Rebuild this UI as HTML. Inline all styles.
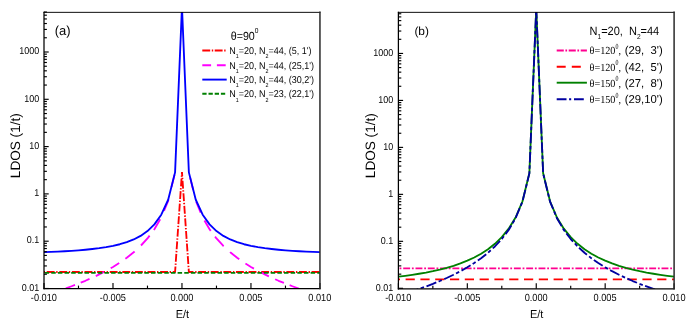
<!DOCTYPE html>
<html><head><meta charset="utf-8"><title>LDOS</title>
<style>html,body{margin:0;padding:0;background:#fff}body{width:693px;height:327px;position:relative;overflow:hidden;font-family:"Liberation Sans",sans-serif}</style>
</head><body>
<svg width="693" height="327" viewBox="0 0 693 327" style="position:absolute;left:0;top:0">
<defs>
<clipPath id="ca"><rect x="44.00" y="12.10" width="275.95" height="276.50"/></clipPath>
<clipPath id="cb"><rect x="398.40" y="12.10" width="275.70" height="276.75"/></clipPath>
</defs>
<g clip-path="url(#ca)" fill="none" stroke-width="1.85" stroke-linejoin="round">
<path d="M44.00 272.00 L50.90 272.00 L57.80 272.00 L64.70 272.00 L71.59 272.00 L78.49 272.00 L85.39 272.00 L92.29 272.00 L99.19 272.00 L106.09 272.00 L112.99 272.00 L119.89 272.00 L126.78 272.00 L133.68 272.00 L140.58 272.00 L147.48 272.00 L154.38 272.00 L161.28 272.00 L168.18 272.00 L175.08 272.00 L181.97 172.17" stroke="#ff0000" stroke-dasharray="7.90 1.60 1.40 1.70" stroke-dashoffset="9.90"/>
<path d="M319.95 272.00 L313.05 272.00 L306.15 272.00 L299.25 272.00 L292.36 272.00 L285.46 272.00 L278.56 272.00 L271.66 272.00 L264.76 272.00 L257.86 272.00 L250.96 272.00 L244.06 272.00 L237.16 272.00 L230.27 272.00 L223.37 272.00 L216.47 272.00 L209.57 272.00 L202.67 272.00 L195.77 272.00 L188.87 272.00 L181.97 172.17" stroke="#ff0000" stroke-dasharray="7.90 1.60 1.40 1.70" stroke-dashoffset="12.10"/>
<path d="M51.50 293.12 L57.80 291.09 L59.50 290.51 M65.80 288.34 L71.59 286.25 L75.00 284.94 M80.70 282.69 L85.39 280.77 L89.50 278.95 M95.80 276.05 L99.19 274.43 L104.00 271.94 M110.70 268.24 L112.99 266.94 L119.20 263.04 M125.40 258.75 L126.78 257.77 L133.68 252.29 L134.60 251.45 M141.00 245.50 L147.48 238.47 L149.60 235.65 M153.90 229.94 L154.38 229.30 L160.20 219.33 M164.00 210.91 L168.18 200.82 L168.50 199.49 M171.50 187.11 L174.50 174.72" stroke="#ff00ff"/>
<path d="M305.15 290.75 L306.15 291.09 L313.05 293.31 L313.15 293.34 M289.65 285.21 L292.36 286.25 L298.85 288.60 M275.15 279.26 L278.56 280.77 L283.95 282.98 M260.65 272.30 L264.76 274.43 L268.85 276.38 M245.45 263.48 L250.96 266.94 L253.95 268.64 M230.05 252.09 L230.27 252.29 L237.16 257.77 L239.25 259.24 M215.05 236.58 L216.47 238.47 L223.37 245.96 L223.65 246.22 M204.45 220.53 L209.57 229.30 L210.75 230.87 M196.15 201.73 L200.65 212.60 M190.15 177.61 L193.15 189.99" stroke="#ff00ff"/>
<path d="M44.00 252.14 L50.90 251.88 L57.80 251.58 L64.70 251.22 L71.59 250.81 L78.49 250.32 L85.39 249.74 L92.29 249.04 L99.19 248.19 L106.09 247.15 L112.99 245.86 L119.89 244.23 L126.78 242.16 L133.68 239.46 L140.58 235.89 L147.48 231.08 L154.38 224.39 L161.28 214.73 L168.18 199.76 L175.08 172.37 L181.97 6.86 L188.87 172.37 L195.77 199.76 L202.67 214.73 L209.57 224.39 L216.47 231.08 L223.37 235.89 L230.27 239.46 L237.16 242.16 L244.06 244.23 L250.96 245.86 L257.86 247.15 L264.76 248.19 L271.66 249.04 L278.56 249.74 L285.46 250.32 L292.36 250.81 L299.25 251.22 L306.15 251.58 L313.05 251.88 L319.95 252.14" stroke="#0000ff"/>
<path d="M44.00 272.87 L50.90 272.87 L57.80 272.87 L64.70 272.87 L71.59 272.87 L78.49 272.87 L85.39 272.87 L92.29 272.87 L99.19 272.87 L106.09 272.87 L112.99 272.87 L119.89 272.87 L126.78 272.87 L133.68 272.87 L140.58 272.87 L147.48 272.87 L154.38 272.87 L161.28 272.87 L168.18 272.87 L175.08 272.87 L181.97 272.87 L188.87 272.87 L195.77 272.87 L202.67 272.87 L209.57 272.87 L216.47 272.87 L223.37 272.87 L230.27 272.87 L237.16 272.87 L244.06 272.87 L250.96 272.87 L257.86 272.87 L264.76 272.87 L271.66 272.87 L278.56 272.87 L285.46 272.87 L292.36 272.87 L299.25 272.87 L306.15 272.87 L313.05 272.87 L319.95 272.87" stroke="#008000" stroke-dasharray="4.50 2.15" stroke-dashoffset="6.05"/>
</g>
<g stroke="#000" stroke-width="1.15" fill="none"><line x1="44.00" y1="288.50" x2="48.70" y2="288.50"/><line x1="44.00" y1="274.26" x2="46.90" y2="274.26"/><line x1="44.00" y1="265.93" x2="46.90" y2="265.93"/><line x1="44.00" y1="260.02" x2="46.90" y2="260.02"/><line x1="44.00" y1="255.44" x2="46.90" y2="255.44"/><line x1="44.00" y1="251.69" x2="46.90" y2="251.69"/><line x1="44.00" y1="248.53" x2="46.90" y2="248.53"/><line x1="44.00" y1="245.78" x2="46.90" y2="245.78"/><line x1="44.00" y1="243.36" x2="46.90" y2="243.36"/><line x1="44.00" y1="241.20" x2="48.70" y2="241.20"/><line x1="44.00" y1="226.96" x2="46.90" y2="226.96"/><line x1="44.00" y1="218.63" x2="46.90" y2="218.63"/><line x1="44.00" y1="212.72" x2="46.90" y2="212.72"/><line x1="44.00" y1="208.14" x2="46.90" y2="208.14"/><line x1="44.00" y1="204.39" x2="46.90" y2="204.39"/><line x1="44.00" y1="201.23" x2="46.90" y2="201.23"/><line x1="44.00" y1="198.48" x2="46.90" y2="198.48"/><line x1="44.00" y1="196.06" x2="46.90" y2="196.06"/><line x1="44.00" y1="193.90" x2="48.70" y2="193.90"/><line x1="44.00" y1="179.66" x2="46.90" y2="179.66"/><line x1="44.00" y1="171.33" x2="46.90" y2="171.33"/><line x1="44.00" y1="165.42" x2="46.90" y2="165.42"/><line x1="44.00" y1="160.84" x2="46.90" y2="160.84"/><line x1="44.00" y1="157.09" x2="46.90" y2="157.09"/><line x1="44.00" y1="153.93" x2="46.90" y2="153.93"/><line x1="44.00" y1="151.18" x2="46.90" y2="151.18"/><line x1="44.00" y1="148.76" x2="46.90" y2="148.76"/><line x1="44.00" y1="146.60" x2="48.70" y2="146.60"/><line x1="44.00" y1="132.36" x2="46.90" y2="132.36"/><line x1="44.00" y1="124.03" x2="46.90" y2="124.03"/><line x1="44.00" y1="118.12" x2="46.90" y2="118.12"/><line x1="44.00" y1="113.54" x2="46.90" y2="113.54"/><line x1="44.00" y1="109.79" x2="46.90" y2="109.79"/><line x1="44.00" y1="106.63" x2="46.90" y2="106.63"/><line x1="44.00" y1="103.88" x2="46.90" y2="103.88"/><line x1="44.00" y1="101.46" x2="46.90" y2="101.46"/><line x1="44.00" y1="99.30" x2="48.70" y2="99.30"/><line x1="44.00" y1="85.06" x2="46.90" y2="85.06"/><line x1="44.00" y1="76.73" x2="46.90" y2="76.73"/><line x1="44.00" y1="70.82" x2="46.90" y2="70.82"/><line x1="44.00" y1="66.24" x2="46.90" y2="66.24"/><line x1="44.00" y1="62.49" x2="46.90" y2="62.49"/><line x1="44.00" y1="59.33" x2="46.90" y2="59.33"/><line x1="44.00" y1="56.58" x2="46.90" y2="56.58"/><line x1="44.00" y1="54.16" x2="46.90" y2="54.16"/><line x1="44.00" y1="52.00" x2="48.70" y2="52.00"/><line x1="44.00" y1="37.76" x2="46.90" y2="37.76"/><line x1="44.00" y1="29.43" x2="46.90" y2="29.43"/><line x1="44.00" y1="23.52" x2="46.90" y2="23.52"/><line x1="44.00" y1="18.94" x2="46.90" y2="18.94"/><line x1="44.00" y1="15.19" x2="46.90" y2="15.19"/><line x1="44.00" y1="12.03" x2="46.90" y2="12.03"/><line x1="44.00" y1="288.60" x2="44.00" y2="283.00"/><line x1="78.49" y1="288.60" x2="78.49" y2="285.60"/><line x1="112.99" y1="288.60" x2="112.99" y2="283.00"/><line x1="147.48" y1="288.60" x2="147.48" y2="285.60"/><line x1="181.97" y1="288.60" x2="181.97" y2="283.00"/><line x1="216.47" y1="288.60" x2="216.47" y2="285.60"/><line x1="250.96" y1="288.60" x2="250.96" y2="283.00"/><line x1="285.46" y1="288.60" x2="285.46" y2="285.60"/><line x1="319.95" y1="288.60" x2="319.95" y2="283.00"/></g><g stroke="#000" fill="none" stroke-linecap="square"><line x1="44.00" y1="12.35" x2="319.95" y2="12.35" stroke-width="0.95"/><line x1="44.00" y1="288.60" x2="319.95" y2="288.60" stroke-width="1.15"/><line x1="44.00" y1="12.35" x2="44.00" y2="288.60" stroke-width="1.25"/><line x1="319.95" y1="12.35" x2="319.95" y2="288.60" stroke-width="1.5" stroke="#2a2a2a"/></g>
<g clip-path="url(#cb)" fill="none" stroke-width="1.85" stroke-linejoin="round">
<path d="M398.40 268.42 L405.29 268.42 L412.18 268.42 L419.08 268.42 L425.97 268.42 L432.86 268.42 L439.75 268.42 L446.65 268.42 L453.54 268.42 L460.43 268.42 L467.32 268.42 L474.22 268.42 L481.11 268.42 L488.00 268.42 L494.89 268.42 L501.79 268.42 L508.68 268.42 L515.57 268.42 L522.47 268.42 L529.36 268.42 L536.25 268.42 L543.14 268.42 L550.03 268.42 L556.93 268.42 L563.82 268.42 L570.71 268.42 L577.61 268.42 L584.50 268.42 L591.39 268.42 L598.28 268.42 L605.17 268.42 L612.07 268.42 L618.96 268.42 L625.85 268.42 L632.75 268.42 L639.64 268.42 L646.53 268.42 L653.42 268.42 L660.32 268.42 L667.21 268.42 L674.10 268.42" stroke="#ff0090" stroke-dasharray="6.90 1.80 1.80 1.80" stroke-dashoffset="7.50"/>
<path d="M398.40 279.40 L405.29 279.40 L412.18 279.40 L419.08 279.40 L425.97 279.40 L432.86 279.40 L439.75 279.40 L446.65 279.40 L453.54 279.40 L460.43 279.40 L467.32 279.40 L474.22 279.40 L481.11 279.40 L488.00 279.40 L494.89 279.40 L501.79 279.40 L508.68 279.40 L515.57 279.40 L522.47 279.40 L529.36 279.40 L536.25 279.40 L543.14 279.40 L550.03 279.40 L556.93 279.40 L563.82 279.40 L570.71 279.40 L577.61 279.40 L584.50 279.40 L591.39 279.40 L598.28 279.40 L605.17 279.40 L612.07 279.40 L618.96 279.40 L625.85 279.40 L632.75 279.40 L639.64 279.40 L646.53 279.40 L653.42 279.40 L660.32 279.40 L667.21 279.40 L674.10 279.40" stroke="#ff0000" stroke-dasharray="9.20 5.60" stroke-dashoffset="7.60"/>
<path d="M398.40 276.65 L405.29 275.80 L412.18 274.84 L419.08 273.77 L425.97 272.56 L432.86 271.18 L439.75 269.62 L446.65 267.84 L453.54 265.79 L460.43 263.43 L467.32 260.70 L474.22 257.50 L481.11 253.73 L488.00 249.24 L494.89 243.83 L501.79 237.16 L508.68 228.70 L515.57 217.49 L522.47 201.33 L529.36 173.28 L536.25 8.63 L543.14 173.28 L550.03 201.33 L556.93 217.49 L563.82 228.70 L570.71 237.16 L577.61 243.83 L584.50 249.24 L591.39 253.73 L598.28 257.50 L605.17 260.70 L612.07 263.43 L618.96 265.79 L625.85 267.84 L632.75 269.62 L639.64 271.18 L646.53 272.56 L653.42 273.77 L660.32 274.84 L667.21 275.80 L674.10 276.65" stroke="#008000"/>
<path d="M398.40 295.58 L405.29 293.48 L412.18 291.28 L419.08 288.95 L425.97 286.47 L432.86 283.84 L439.75 281.02 L446.65 278.00 L453.54 274.74 L460.43 271.19 L467.32 267.30 L474.22 263.00 L481.11 258.19 L488.00 252.75 L494.89 246.46 L501.79 239.02 L508.68 229.91 L515.57 218.18 L522.47 201.64 L529.36 173.36 L536.25 8.63" stroke="#0000a0" stroke-dasharray="10.50 2.50 3.50 2.70" stroke-dashoffset="8.79"/>
<path d="M674.10 295.58 L667.21 293.48 L660.32 291.28 L653.42 288.95 L646.53 286.47 L639.64 283.84 L632.75 281.02 L625.85 278.00 L618.96 274.74 L612.07 271.19 L605.17 267.30 L598.28 263.00 L591.39 258.19 L584.50 252.75 L577.61 246.46 L570.71 239.02 L563.82 229.91 L556.93 218.18 L550.03 201.64 L543.14 173.36 L536.25 8.63" stroke="#0000a0" stroke-dasharray="10.50 2.50 3.50 2.70" stroke-dashoffset="18.33"/>
</g>
<g stroke="#000" stroke-width="1.15" fill="none"><line x1="398.40" y1="288.30" x2="403.10" y2="288.30"/><line x1="398.40" y1="274.16" x2="401.30" y2="274.16"/><line x1="398.40" y1="265.89" x2="401.30" y2="265.89"/><line x1="398.40" y1="260.02" x2="401.30" y2="260.02"/><line x1="398.40" y1="255.47" x2="401.30" y2="255.47"/><line x1="398.40" y1="251.75" x2="401.30" y2="251.75"/><line x1="398.40" y1="248.61" x2="401.30" y2="248.61"/><line x1="398.40" y1="245.88" x2="401.30" y2="245.88"/><line x1="398.40" y1="243.48" x2="401.30" y2="243.48"/><line x1="398.40" y1="241.33" x2="403.10" y2="241.33"/><line x1="398.40" y1="227.19" x2="401.30" y2="227.19"/><line x1="398.40" y1="218.92" x2="401.30" y2="218.92"/><line x1="398.40" y1="213.05" x2="401.30" y2="213.05"/><line x1="398.40" y1="208.50" x2="401.30" y2="208.50"/><line x1="398.40" y1="204.78" x2="401.30" y2="204.78"/><line x1="398.40" y1="201.64" x2="401.30" y2="201.64"/><line x1="398.40" y1="198.91" x2="401.30" y2="198.91"/><line x1="398.40" y1="196.51" x2="401.30" y2="196.51"/><line x1="398.40" y1="194.36" x2="403.10" y2="194.36"/><line x1="398.40" y1="180.22" x2="401.30" y2="180.22"/><line x1="398.40" y1="171.95" x2="401.30" y2="171.95"/><line x1="398.40" y1="166.08" x2="401.30" y2="166.08"/><line x1="398.40" y1="161.53" x2="401.30" y2="161.53"/><line x1="398.40" y1="157.81" x2="401.30" y2="157.81"/><line x1="398.40" y1="154.67" x2="401.30" y2="154.67"/><line x1="398.40" y1="151.94" x2="401.30" y2="151.94"/><line x1="398.40" y1="149.54" x2="401.30" y2="149.54"/><line x1="398.40" y1="147.39" x2="403.10" y2="147.39"/><line x1="398.40" y1="133.25" x2="401.30" y2="133.25"/><line x1="398.40" y1="124.98" x2="401.30" y2="124.98"/><line x1="398.40" y1="119.11" x2="401.30" y2="119.11"/><line x1="398.40" y1="114.56" x2="401.30" y2="114.56"/><line x1="398.40" y1="110.84" x2="401.30" y2="110.84"/><line x1="398.40" y1="107.70" x2="401.30" y2="107.70"/><line x1="398.40" y1="104.97" x2="401.30" y2="104.97"/><line x1="398.40" y1="102.57" x2="401.30" y2="102.57"/><line x1="398.40" y1="100.42" x2="403.10" y2="100.42"/><line x1="398.40" y1="86.28" x2="401.30" y2="86.28"/><line x1="398.40" y1="78.01" x2="401.30" y2="78.01"/><line x1="398.40" y1="72.14" x2="401.30" y2="72.14"/><line x1="398.40" y1="67.59" x2="401.30" y2="67.59"/><line x1="398.40" y1="63.87" x2="401.30" y2="63.87"/><line x1="398.40" y1="60.73" x2="401.30" y2="60.73"/><line x1="398.40" y1="58.00" x2="401.30" y2="58.00"/><line x1="398.40" y1="55.60" x2="401.30" y2="55.60"/><line x1="398.40" y1="53.45" x2="403.10" y2="53.45"/><line x1="398.40" y1="39.31" x2="401.30" y2="39.31"/><line x1="398.40" y1="31.04" x2="401.30" y2="31.04"/><line x1="398.40" y1="25.17" x2="401.30" y2="25.17"/><line x1="398.40" y1="20.62" x2="401.30" y2="20.62"/><line x1="398.40" y1="16.90" x2="401.30" y2="16.90"/><line x1="398.40" y1="13.76" x2="401.30" y2="13.76"/><line x1="398.40" y1="288.85" x2="398.40" y2="283.25"/><line x1="432.86" y1="288.85" x2="432.86" y2="285.85"/><line x1="467.32" y1="288.85" x2="467.32" y2="283.25"/><line x1="501.79" y1="288.85" x2="501.79" y2="285.85"/><line x1="536.25" y1="288.85" x2="536.25" y2="283.25"/><line x1="570.71" y1="288.85" x2="570.71" y2="285.85"/><line x1="605.17" y1="288.85" x2="605.17" y2="283.25"/><line x1="639.64" y1="288.85" x2="639.64" y2="285.85"/><line x1="674.10" y1="288.85" x2="674.10" y2="283.25"/></g><g stroke="#000" fill="none" stroke-linecap="square"><line x1="398.40" y1="12.35" x2="674.10" y2="12.35" stroke-width="0.95"/><line x1="398.40" y1="288.85" x2="674.10" y2="288.85" stroke-width="1.15"/><line x1="398.40" y1="12.35" x2="398.40" y2="288.85" stroke-width="1.25"/><line x1="674.10" y1="12.35" x2="674.10" y2="288.85" stroke-width="1.5" stroke="#2a2a2a"/></g>
<line x1="202.30" y1="50.50" x2="226.70" y2="50.50" stroke="#ff0000" stroke-width="1.9" stroke-dasharray="7.9 1.6 1.4 1.5"/>
<line x1="202.30" y1="65.20" x2="226.70" y2="65.20" stroke="#ff00ff" stroke-width="1.9" stroke-dasharray="8.8 5.8"/>
<line x1="202.30" y1="79.60" x2="226.70" y2="79.60" stroke="#0000ff" stroke-width="1.9"/>
<line x1="202.30" y1="93.70" x2="226.70" y2="93.70" stroke="#008000" stroke-width="1.9" stroke-dasharray="4.3 1.9"/>
<line x1="556.70" y1="50.50" x2="586.90" y2="50.50" stroke="#ff0090" stroke-width="1.9" stroke-dasharray="7.1 1.6 1.7 1.6"/>
<line x1="556.70" y1="66.70" x2="586.90" y2="66.70" stroke="#ff0000" stroke-width="1.9" stroke-dasharray="9 6.1"/>
<line x1="556.70" y1="82.70" x2="586.90" y2="82.70" stroke="#008000" stroke-width="1.9"/>
<line x1="556.70" y1="99.30" x2="584.50" y2="99.30" stroke="#0000a0" stroke-width="1.9" stroke-dasharray="9.8 2.6 2.1 2.8"/>
<g font-family="Liberation Sans, sans-serif" fill="#000" opacity="0.99" text-rendering="geometricPrecision">
<text transform="translate(39.30 54.20) scale(1 1.110)" font-size="9.00" text-anchor="end" >1000</text>
<text transform="translate(39.30 101.50) scale(1 1.110)" font-size="9.00" text-anchor="end" >100</text>
<text transform="translate(39.30 148.80) scale(1 1.110)" font-size="9.00" text-anchor="end" >10</text>
<text transform="translate(39.30 196.10) scale(1 1.110)" font-size="9.00" text-anchor="end" >1</text>
<text transform="translate(39.30 243.40) scale(1 1.110)" font-size="9.00" text-anchor="end" >0.1</text>
<text transform="translate(39.30 290.70) scale(1 1.110)" font-size="9.00" text-anchor="end" >0.01</text>
<text transform="translate(43.90 300.70) scale(1 1.120)" font-size="9.20" text-anchor="middle" >-0.010</text>
<text transform="translate(112.89 300.70) scale(1 1.120)" font-size="9.20" text-anchor="middle" >-0.005</text>
<text transform="translate(181.88 300.70) scale(1 1.120)" font-size="9.20" text-anchor="middle" >0.000</text>
<text transform="translate(250.86 300.70) scale(1 1.120)" font-size="9.20" text-anchor="middle" >0.005</text>
<text transform="translate(319.85 300.70) scale(1 1.120)" font-size="9.20" text-anchor="middle" >0.010</text>
<text transform="translate(182.38 317.90) scale(1 1.050)" font-size="11.00" text-anchor="middle" >E/t</text>
<text transform="translate(20.40 145.70) rotate(-90) scale(1 1.000)" font-size="13.60" text-anchor="middle" >LDOS (1/t)</text>
<text transform="translate(393.20 55.65) scale(1 1.110)" font-size="9.00" text-anchor="end" >1000</text>
<text transform="translate(393.20 102.62) scale(1 1.110)" font-size="9.00" text-anchor="end" >100</text>
<text transform="translate(393.20 149.59) scale(1 1.110)" font-size="9.00" text-anchor="end" >10</text>
<text transform="translate(393.20 196.56) scale(1 1.110)" font-size="9.00" text-anchor="end" >1</text>
<text transform="translate(393.20 243.53) scale(1 1.110)" font-size="9.00" text-anchor="end" >0.1</text>
<text transform="translate(393.20 290.50) scale(1 1.110)" font-size="9.00" text-anchor="end" >0.01</text>
<text transform="translate(398.30 300.70) scale(1 1.120)" font-size="9.20" text-anchor="middle" >-0.010</text>
<text transform="translate(467.22 300.70) scale(1 1.120)" font-size="9.20" text-anchor="middle" >-0.005</text>
<text transform="translate(536.15 300.70) scale(1 1.120)" font-size="9.20" text-anchor="middle" >0.000</text>
<text transform="translate(605.07 300.70) scale(1 1.120)" font-size="9.20" text-anchor="middle" >0.005</text>
<text transform="translate(674.00 300.70) scale(1 1.120)" font-size="9.20" text-anchor="middle" >0.010</text>
<text transform="translate(536.65 317.90) scale(1 1.050)" font-size="11.00" text-anchor="middle" >E/t</text>
<text transform="translate(374.80 145.70) rotate(-90) scale(1 1.000)" font-size="13.60" text-anchor="middle" >LDOS (1/t)</text>
<text transform="translate(54.70 34.70) scale(1 1.000)" font-size="13.00" text-anchor="start" >(a)</text>
<text transform="translate(414.40 35.00) scale(1 0.980)" font-size="11.90" text-anchor="start" >(b)</text>
<text transform="translate(229.20 54.10) scale(1 1.100)" font-size="9.00" text-anchor="start" >N<tspan font-size="60%" dy="3.9">1</tspan><tspan dy="-3.9">=20, N</tspan><tspan font-size="60%" dy="3.9">2</tspan><tspan dy="-3.9">=44, (5, 1')</tspan></text>
<text transform="translate(229.20 68.80) scale(1 1.100)" font-size="9.00" text-anchor="start" >N<tspan font-size="60%" dy="3.9">1</tspan><tspan dy="-3.9">=20, N</tspan><tspan font-size="60%" dy="3.9">2</tspan><tspan dy="-3.9">=44, (25,1')</tspan></text>
<text transform="translate(229.20 83.20) scale(1 1.100)" font-size="9.00" text-anchor="start" >N<tspan font-size="60%" dy="3.9">1</tspan><tspan dy="-3.9">=20, N</tspan><tspan font-size="60%" dy="3.9">2</tspan><tspan dy="-3.9">=44, (30,2')</tspan></text>
<text transform="translate(229.20 97.30) scale(1 1.100)" font-size="9.00" text-anchor="start" >N<tspan font-size="60%" dy="3.9">1</tspan><tspan dy="-3.9">=20, N</tspan><tspan font-size="60%" dy="3.9">2</tspan><tspan dy="-3.9">=23, (22,1')</tspan></text>
<text transform="translate(230.70 39.50) scale(1 1.100)" font-size="10.70" text-anchor="start" >θ=90<tspan font-size="62%" dy="-6.2">0</tspan></text>
<text transform="translate(589.50 34.90) scale(1 1.100)" font-size="11.00" text-anchor="start" xml:space="preserve">N<tspan font-size="60%" dy="3.9">1</tspan><tspan dy="-3.9">=20,  N</tspan><tspan font-size="60%" dy="3.9">2</tspan><tspan dy="-3.9">=44</tspan></text>
<text transform="translate(589.5 54.30) scale(1 1.06)" font-family="Liberation Serif, serif" font-size="10.2">θ=120</text><text transform="translate(615.4 49.00) scale(0.85 1.12)" font-family="Liberation Serif, serif" font-size="7">0</text><text transform="translate(618.6 54.30) scale(1 1)" font-family="Liberation Serif, serif" font-size="10.2">,</text><text transform="translate(624.7 54.30) scale(1 1.02)" font-size="11.3" xml:space="preserve">(29,  3')</text>
<text transform="translate(589.5 70.50) scale(1 1.06)" font-family="Liberation Serif, serif" font-size="10.2">θ=120</text><text transform="translate(615.4 65.20) scale(0.85 1.12)" font-family="Liberation Serif, serif" font-size="7">0</text><text transform="translate(618.6 70.50) scale(1 1)" font-family="Liberation Serif, serif" font-size="10.2">,</text><text transform="translate(624.7 70.50) scale(1 1.02)" font-size="11.3" xml:space="preserve">(42,  5')</text>
<text transform="translate(589.5 86.50) scale(1 1.06)" font-family="Liberation Serif, serif" font-size="10.2">θ=150</text><text transform="translate(615.4 81.20) scale(0.85 1.12)" font-family="Liberation Serif, serif" font-size="7">0</text><text transform="translate(618.6 86.50) scale(1 1)" font-family="Liberation Serif, serif" font-size="10.2">,</text><text transform="translate(624.7 86.50) scale(1 1.02)" font-size="11.3" xml:space="preserve">(27,  8')</text>
<text transform="translate(589.5 103.10) scale(1 1.06)" font-family="Liberation Serif, serif" font-size="10.2">θ=150</text><text transform="translate(615.4 97.80) scale(0.85 1.12)" font-family="Liberation Serif, serif" font-size="7">0</text><text transform="translate(618.6 103.10) scale(1 1)" font-family="Liberation Serif, serif" font-size="10.2">,</text><text transform="translate(624.7 103.10) scale(1 1.02)" font-size="11.3" xml:space="preserve">(29,10')</text>
</g>
</svg>
</body></html>
